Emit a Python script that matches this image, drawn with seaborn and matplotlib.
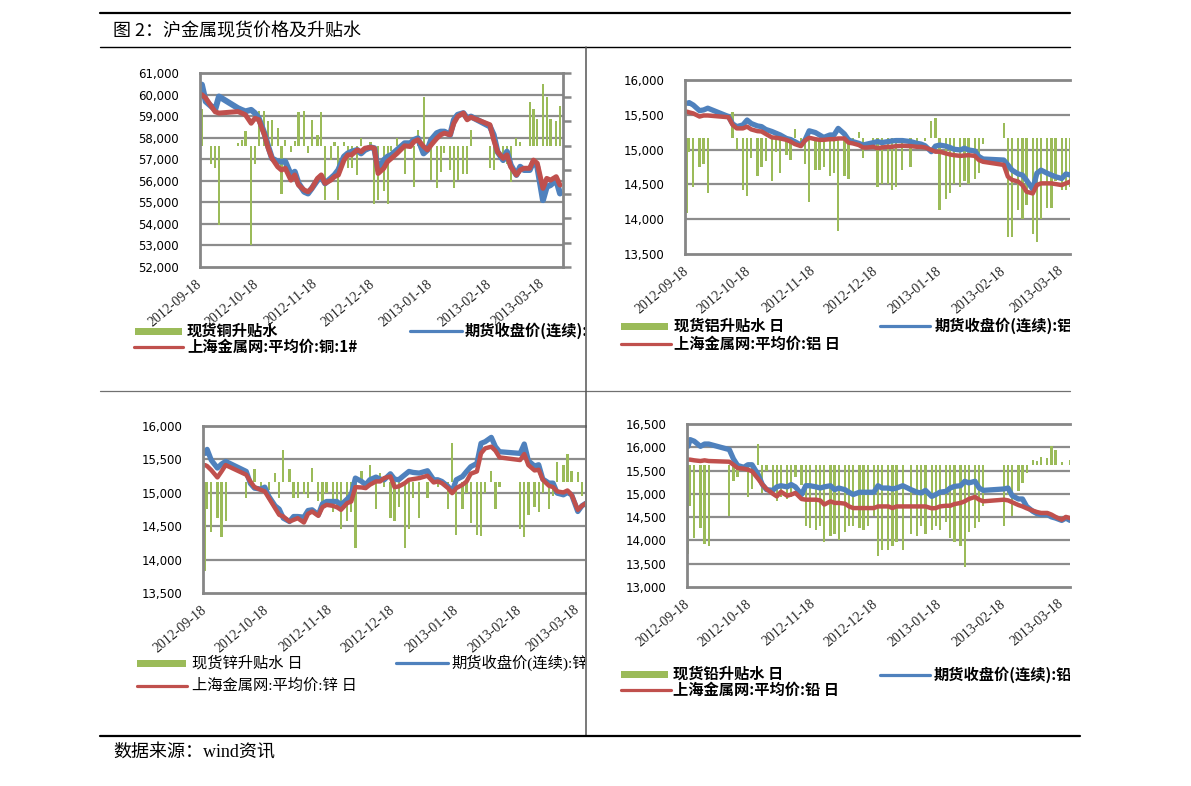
import numpy as np
import pandas as pd
import matplotlib
matplotlib.use("Agg")
import matplotlib.pyplot as plt
import matplotlib.dates as mdates
import matplotlib.ticker as mticker
from matplotlib.lines import Line2D
from matplotlib.patches import Rectangle
from matplotlib.transforms import blended_transform_factory
import seaborn as sns

sns.set_theme(style="white")
plt.rcParams["font.family"] = ["DejaVu Sans", "Noto Sans CJK SC"]
plt.rcParams["axes.unicode_minus"] = False

# ---------------- data ----------------
dates = [
    "2012-09-18", "2012-09-19", "2012-09-21", "2012-09-24", "2012-09-26", "2012-09-28",
    "2012-10-08", "2012-10-10", "2012-10-12", "2012-10-15", "2012-10-17", "2012-10-19",
    "2012-10-22", "2012-10-24", "2012-10-26", "2012-10-29", "2012-10-31", "2012-11-02",
    "2012-11-05", "2012-11-07", "2012-11-09", "2012-11-12", "2012-11-14", "2012-11-16",
    "2012-11-19", "2012-11-21", "2012-11-23", "2012-11-26", "2012-11-28", "2012-11-30",
    "2012-12-03", "2012-12-05", "2012-12-07", "2012-12-10", "2012-12-12", "2012-12-14",
    "2012-12-17", "2012-12-19", "2012-12-21", "2012-12-24", "2012-12-26", "2012-12-28",
    "2012-12-31", "2013-01-04", "2013-01-07", "2013-01-09", "2013-01-11", "2013-01-14",
    "2013-01-16", "2013-01-18", "2013-01-21", "2013-01-23", "2013-01-25", "2013-01-28",
    "2013-01-30", "2013-02-01", "2013-02-04", "2013-02-06", "2013-02-08", "2013-02-18",
    "2013-02-20", "2013-02-22", "2013-02-25", "2013-02-27", "2013-03-01", "2013-03-04",
    "2013-03-06", "2013-03-08", "2013-03-11", "2013-03-13", "2013-03-15", "2013-03-18",
    "2013-03-20", "2013-03-22", "2013-03-25", "2013-03-27",
]

cu_futures = [
    60380, 60460, 59680, 59450, 59300, 59910,
    59370, 59290, 59220, 59290, 59140, 58900, 58200, 57590, 57040, 56890, 56890, 56890,
    56270, 56420, 55880, 55490, 55410, 55650, 56030, 56190, 55880, 56110, 56270, 56500,
    57120, 57270, 57350, 57430, 57270, 57430, 57550, 57510, 56500, 56960, 57120, 57200, 57430,
    57740, 57740, 57900, 57970, 57270, 57430, 57900, 58210, 58280, 58280, 58130, 58830, 59060,
    59140, 58900, 58980, 58520, 58130, 57350, 56960, 57350, 56730,
    56270, 56650, 56500, 56500, 56890, 56650, 55100, 55720, 55800, 56030, 55410,
]
cu_spot = [
    59990, 59990, 59840, 59450, 59200, 59140,
    59210, 59140, 59060, 58670, 58900, 58830, 58130, 57510, 57040, 56650, 56500, 56580,
    56030, 56270, 55800, 55570, 55490, 55650, 56110, 56270, 55880, 56030, 56190, 56270,
    56960, 57200, 57200, 57430, 57350, 57510, 57550, 57510, 56340, 56580, 56890, 57040, 57270,
    57620, 57590, 57820, 57900, 57590, 57430, 57660, 57970, 58130, 58210, 58130, 58670, 58980,
    59140, 58830, 58950, 58600, 57900, 57350, 57040, 57200, 56650,
    56270, 56500, 56580, 56580, 56960, 56810, 55650, 56110, 56030, 56190, 55800,
]
cu_premium = [
    200, 300, 0, -150, -180, -650,
    20, 50, 120, -820, -150, 290, 290, 200, 210, 150, -400, 50,
    -50, 40, 280, 290, -60, 210, 90, 280, -450, -120, 30, -450,
    30, -180, -180, -240, 60, 0, 30, -480, -450, -370, -480, -40, 60,
    -230, 40, -340, 130, 400, 0, -280, -350, -220, -60, -200, -350, -280,
    -230, -230, 130, -180, -200, -80, -140, -150, -300,
    60, 30, 0, 360, 300, 220, 510, 400, 220, 200, 330,
]

al_futures = [
    15665, 15675, 15640, 15560, 15570, 15595,
    15475, 15370, 15330, 15355, 15425, 15375, 15340, 15330, 15290, 15260, 15235, 15210,
    15160, 15145, 15115, 15065, 15140, 15270, 15245, 15210, 15175, 15210, 15210, 15305,
    15225, 15140, 15115, 15090, 15065, 15080, 15100, 15115, 15100, 15115, 15125, 15130, 15130,
    15115, 15090, 15080, 15055, 14970, 15050, 15065, 15050, 15030, 15005, 14995, 15020, 14995,
    14980, 14900, 14865, 14850, 14780, 14705, 14650, 14635, 14560,
    14430, 14660, 14705, 14660, 14635, 14610, 14585, 14650, 14635, 14640, 14640,
]
al_spot = [
    15545, 15535, 15520, 15475, 15490, 15490,
    15465, 15355, 15305, 15305, 15330, 15290, 15265, 15260, 15225, 15175, 15170, 15160,
    15140, 15115, 15080, 15050, 15130, 15170, 15150, 15140, 15140, 15150, 15150, 15160,
    15160, 15100, 15090, 15065, 15030, 15030, 15040, 15020, 15030, 15040, 15040, 15050, 15055,
    15050, 15040, 15040, 15030, 14995, 14970, 14970, 14945, 14930, 14920, 14910, 14915, 14920,
    14910, 14850, 14825, 14780, 14610, 14565, 14540, 14490, 14395,
    14370, 14490, 14515, 14515, 14515, 14505, 14490, 14515, 14540, 14550, 14550,
]
al_premium = [
    -260, -50, -170, -100, -90, -190,
    0, 90, -40, -180, -200, -70, -130, -100, -80, -150, -50, -120,
    -60, -75, 30, -30, -90, -220, -110, -110, -100, -130, -120, -320,
    -130, -140, -20, 20, -70, 0, -20, -170, -160, -160, -180, -170, -110,
    -100, -20, 0, -10, 60, 70, -250, -210, -190, -160, -170, -150, -160,
    -140, -120, -20, 50, -340, -340, -250, -280, -230,
    -330, -360, -280, -240, -240, -150, -180, -180, -170, -150, -150,
]

zn_futures = [
    15590, 15650, 15490, 15370, 15430, 15470,
    15320, 15140, 15070, 15055, 15085, 14945, 14805, 14755, 14620, 14570, 14645, 14645,
    14635, 14735, 14745, 14670, 14835, 14870, 14870, 14870, 14820, 14905, 14970, 15220,
    15170, 15120, 15195, 15235, 15205, 15195, 15285, 15205, 15195, 15270, 15320, 15305, 15295,
    15330, 15195, 15195, 15170, 15095, 15020, 15195, 15245, 15320, 15390, 15440, 15740, 15765,
    15830, 15690, 15615, 15590, 15730, 15480, 15400, 15420, 15205,
    15145, 15145, 14995, 14970, 15005, 14970, 14720, 14805, 14845, 14850, 14850,
]
zn_spot = [
    15415, 15400, 15340, 15230, 15320, 15415,
    15270, 15170, 15085, 15045, 15020, 14920, 14770, 14670, 14645, 14570, 14595, 14620,
    14555, 14685, 14720, 14655, 14785, 14820, 14805, 14785, 14745, 14845, 14870, 15085,
    15080, 15070, 15120, 15170, 15170, 15220, 15245, 15085, 15095, 15145, 15195, 15205, 15220,
    15255, 15155, 15170, 15145, 15070, 14995, 15070, 15120, 15170, 15285, 15320, 15590, 15665,
    15690, 15630, 15530, 15490, 15580, 15415, 15335, 15345, 15195,
    15105, 15085, 15020, 15005, 15035, 14970, 14745, 14805, 14845, 14850, 14850,
]
zn_premium = [
    -320, -100, -180, -130, -200, -140,
    -60, 0, 45, -20, 0, -30, 30, -60, 115, 45, -60, -60,
    -45, -60, 50, -70, -100, -40, -110, -90, -170, -140, -110, -240,
    40, -30, 60, -100, 30, -20, -130, -140, -90, -240, -170, -60, -130,
    -60, 0, -20, 0, -100, 140, -190, -100, -40, -150, -190, -195, -40,
    40, -100, -20, -170, -200, -120, -90, -110, -40,
    -100, -50, 70, 60, 100, 40, 35, -50, 20, 0, 0,
]

pb_futures = [
    16020, 16165, 16130, 16020, 16070, 16070,
    15950, 15750, 15610, 15570, 15625, 15625, 15410, 15200, 15090, 15075, 15150, 15175,
    15150, 15200, 15150, 14985, 15175, 15175, 15150, 15125, 15150, 15175, 15090, 15125,
    15090, 15035, 14985, 15035, 15035, 15035, 15035, 15175, 15125, 15125, 15105, 15125, 15175,
    15090, 15035, 15020, 15075, 14945, 14985, 15035, 15055, 15125, 15160, 15175, 15270, 15235,
    15270, 15125, 15075, 15105, 15125, 14960, 14890, 14890, 14730,
    14625, 14575, 14555, 14555, 14505, 14480, 14430, 14480, 14430, 14430, 14430,
]
pb_spot = [
    15735, 15735, 15720, 15705, 15720, 15705,
    15690, 15625, 15555, 15540, 15520, 15485, 15320, 15200, 15105, 15005, 14945, 15045,
    14960, 14985, 15020, 14890, 14875, 14875, 14875, 14860, 14770, 14840, 14805, 14805,
    14790, 14730, 14695, 14695, 14695, 14695, 14695, 14730, 14730, 14730, 14695, 14730, 14730,
    14730, 14730, 14730, 14730, 14690, 14695, 14730, 14745, 14745, 14780, 14805, 14840, 14890,
    14935, 14875, 14840, 14875, 14860, 14820, 14760, 14730, 14690,
    14640, 14610, 14590, 14590, 14555, 14505, 14445, 14505, 14480, 14480, 14480,
]
pb_premium = [
    -440, -200, -360, -310, -390, -400,
    -250, -80, -60, 0, -160, -120, 100, -140, -30, -150, -180, -160,
    -170, -160, -60, -100, -300, -310, -320, -300, -380, -350, -340, -370,
    -330, -300, -300, -310, -320, -300, -250, -450, -420, -420, -400, -380, -420,
    -340, -350, -300, -340, -320, -300, -320, -280, -360, -380, -400, -500, -330,
    -310, -280, -200, -300, -150, -250, -130, -90, -40,
    25, 20, 40, 35, 90, 70, 15, 0, 25, 20, 20,
]

tick_dates = ["2012-09-18", "2012-10-18", "2012-11-18", "2012-12-18",
              "2013-01-18", "2013-02-18", "2013-03-18"]

title_text = "图 2：沪金属现货价格及升贴水"
source_text = "数据来源：wind资讯"

# ---------------- style ----------------
W, H = 1191, 786
GREEN = "#9BBB59"
BLUE = "#4F81BD"
RED = "#C0504D"
SPINE = "#868686"
GRID = "#8C8C8C"

fig = plt.figure(figsize=(W / 100, H / 100), dpi=100)
fig.patch.set_facecolor("white")


def px_rect(l, t, r, b):
    return [l / W, 1 - b / H, (r - l) / W, (b - t) / H]


def draw_panel(rect, fut, spot, prem, yticks, sec_lim, sec_ticks, xlim,
               right_axis, lw_blue, lw_red):
    ax = fig.add_axes(px_rect(*rect))
    ax2 = ax.twinx()
    ax.set_zorder(ax2.get_zorder() + 1)
    ax.patch.set_visible(False)
    x = pd.to_datetime(pd.Series(dates))

    ax2.bar(x, prem, width=1.1, color=GREEN, linewidth=0, zorder=2)
    sns.lineplot(x=x, y=fut, ax=ax, color=BLUE, linewidth=lw_blue,
                 legend=False, estimator=None, sort=False)
    sns.lineplot(x=x, y=spot, ax=ax, color=RED, linewidth=lw_red,
                 legend=False, estimator=None, sort=False)

    ax.set_ylim(yticks[0], yticks[-1])
    ax.set_yticks(yticks)
    ax.yaxis.set_major_formatter(mticker.StrMethodFormatter("{x:,.0f}"))
    ax.set_xlim(pd.Timestamp(xlim[0]), pd.Timestamp(xlim[1]))
    ax.xaxis.set_major_locator(mticker.FixedLocator(
        mdates.date2num(pd.to_datetime(tick_dates))))
    ax.xaxis.set_major_formatter(mdates.DateFormatter("%Y-%m-%d"))
    ax.set_xlabel("")
    ax.set_ylabel("")
    ax2.set_ylabel("")

    ax.tick_params(axis="y", length=0, pad=15, labelsize=8.5, labelcolor="black")
    ax.tick_params(axis="x", length=0, pad=11)
    for lab in ax.get_xticklabels():
        lab.set_rotation(40)
        lab.set_ha("right")
        lab.set_va("center")
        lab.set_rotation_mode("anchor")
        lab.set_fontfamily(["Liberation Serif", "DejaVu Serif"])
        lab.set_fontsize(10)

    # horizontal gridlines beneath bars & lines, at price ticks
    trans = blended_transform_factory(ax2.transAxes, ax.transData)
    for tv in yticks[1:-1]:
        ax2.add_line(Line2D([0, 1], [tv, tv], transform=trans, color=GRID,
                            linewidth=1.6, zorder=1))
    ax2.set_ylim(*sec_lim)

    for side in ["left", "top", "bottom", "right"]:
        ax.spines[side].set_color(SPINE)
        ax.spines[side].set_linewidth(2.0)
        ax2.spines[side].set_visible(False)
    ax.spines["right"].set_visible(right_axis)

    if right_axis:
        ax2.set_yticks(sec_ticks)
        ax2.tick_params(axis="y", right=True, length=6, width=1.8,
                        color=SPINE, direction="out", labelright=False)
    else:
        ax2.set_yticks([])
    return ax


def draw_legend(cell, items):
    x0, y0, x1, y1 = cell
    cax = fig.add_axes(px_rect(x0, y0, x1, y1))
    cax.set_axis_off()
    cax.set_autoscale_on(False)
    cax.set_xlim(x0, x1)
    cax.set_ylim(y1, y0)
    for kind, color, hx0, hx1, hy, tx, text, fam, weight, size in items:
        if kind == "patch":
            cax.add_patch(Rectangle((hx0, hy - 3.5), hx1 - hx0, 7, color=color,
                                    linewidth=0, clip_on=True))
        else:
            cax.add_line(Line2D([hx0, hx1], [hy, hy], color=color,
                                linewidth=2.3, clip_on=True))
        cax.text(tx, hy, text, ha="left", va="center", clip_on=True,
                 fontfamily=fam, fontweight=weight, fontsize=size, color="black")


CJK = ["Noto Sans CJK SC", "DejaVu Sans"]
SERIF_CJK = ["Liberation Serif", "Noto Sans CJK SC"]

# Panel 1 - copper
draw_panel((200, 73, 563, 267), cu_futures, cu_spot, cu_premium,
           np.arange(52000, 61001, 1000), (-1000, 600), np.arange(-1000, 601, 200),
           ("2012-09-18", "2013-03-28 14:00"), True, 4.3, 3.6)
draw_legend((100, 47, 585, 391), [
    ("patch", GREEN, 135, 182, 331, 187, "现货铜升贴水", CJK, "bold", 11),
    ("line", BLUE, 410, 462, 331, 465, "期货收盘价(连续):铜", CJK, "bold", 11),
    ("line", RED, 134, 183, 347, 187, "上海金属网:平均价:铜:1#", CJK, "bold", 11),
])

# Panel 2 - aluminium
draw_panel((685, 80, 1070, 254), al_futures, al_spot, al_premium,
           np.arange(13500, 16001, 500), (-400, 200), [],
           ("2012-09-17", "2013-03-22"), False, 3.8, 3.2)
draw_legend((587, 47, 1070, 391), [
    ("patch", GREEN, 621, 668, 326, 674, "现货铝升贴水 日", CJK, "bold", 11),
    ("line", BLUE, 880, 930, 326, 935, "期货收盘价(连续):铝", CJK, "bold", 11),
    ("line", RED, 621, 671, 344, 674, "上海金属网:平均价:铝 日", CJK, "bold", 11),
])

# Panel 3 - zinc
draw_panel((203, 426, 585, 593), zn_futures, zn_spot, zn_premium,
           np.arange(13500, 16001, 500), (-400, 200), [],
           ("2012-09-17", "2013-03-21 12:00"), False, 3.8, 3.2)
draw_legend((100, 391, 585, 736), [
    ("patch", GREEN, 137, 186, 663, 192, "现货锌升贴水 日", SERIF_CJK, "normal", 11),
    ("line", BLUE, 396, 448, 663, 451, "期货收盘价(连续):锌", SERIF_CJK, "normal", 11),
    ("line", RED, 137, 187, 686, 192, "上海金属网:平均价:锌 日", SERIF_CJK, "normal", 11),
])

# Panel 4 - lead
draw_panel((687, 424, 1070, 587), pb_futures, pb_spot, pb_premium,
           np.arange(13000, 16501, 500), (-600, 200), [],
           ("2012-09-17 12:00", "2013-03-22"), False, 3.8, 3.2)
draw_legend((587, 391, 1070, 736), [
    ("patch", GREEN, 621, 668, 674, 673, "现货铅升贴水 日", CJK, "bold", 11),
    ("line", BLUE, 880, 930, 675, 934, "期货收盘价(连续):铅", CJK, "bold", 11),
    ("line", RED, 621, 671, 690, 673, "上海金属网:平均价:铅 日", CJK, "bold", 11),
])


# ---------------- frame lines & texts ----------------
def hline(y, x0, x1, color, lw):
    fig.add_artist(Line2D([x0 / W, x1 / W], [1 - y / H, 1 - y / H],
                          transform=fig.transFigure, color=color, linewidth=lw))


def vline(x, y0, y1, color, lw):
    fig.add_artist(Line2D([x / W, x / W], [1 - y0 / H, 1 - y1 / H],
                          transform=fig.transFigure, color=color, linewidth=lw))


hline(13, 100, 1070, "black", 1.6)
hline(47, 100, 1070, "black", 1.0)
hline(391, 100, 1070, "#707070", 0.9)
vline(586, 47, 736, "#555555", 1.1)
hline(736, 100, 1080, "black", 1.6)

fig.text(113 / W, 1 - 31 / H, title_text, ha="left", va="center",
         fontsize=13, fontfamily=CJK, color="black")
fig.text(113 / W, 1 - 753 / H, source_text, ha="left", va="center",
         fontsize=13, fontfamily=SERIF_CJK, color="black")

fig.savefig("out.png", dpi=100, facecolor="white")
